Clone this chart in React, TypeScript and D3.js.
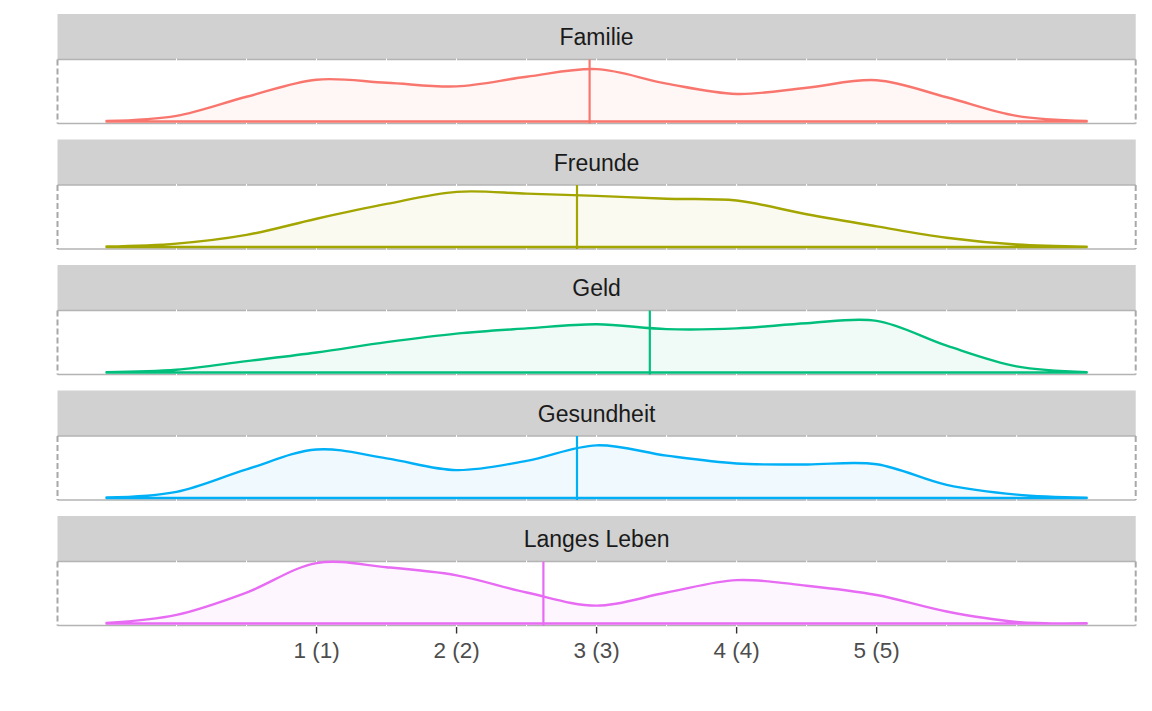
import React, { useEffect, useRef } from 'react';
import * as d3 from 'd3';

// evaluation points of the density curves (scale values)
const gridX = [-0.5, 0, 0.5, 1, 1.5, 2, 2.5, 3, 3.5, 4, 4.5, 5, 5.5, 6, 6.5];

const categories = ['Familie', 'Freunde', 'Geld', 'Gesundheit', 'Langes Leben'];
const colors = ['#F8766D', '#A3A500', '#00BF7D', '#00B0F6', '#E76BF3'];

// estimated kernel density values
const familie = [0.0025, 0.0275, 0.12, 0.2025, 0.1875, 0.17, 0.2165, 0.2535, 0.1835, 0.1335, 0.1635, 0.2, 0.1175, 0.0275, 0.0025];
const freunde = [0.0025, 0.0165, 0.0585, 0.137, 0.2085, 0.267, 0.2585, 0.2475, 0.2335, 0.225, 0.1585, 0.1, 0.045, 0.012, 0.002];
const geld = [0.002, 0.0135, 0.055, 0.097, 0.147, 0.1885, 0.2135, 0.2335, 0.21, 0.2135, 0.2385, 0.25, 0.13, 0.03, 0.002];
const gesundheit = [0.0025, 0.03, 0.1385, 0.235, 0.192, 0.135, 0.18, 0.255, 0.205, 0.167, 0.1625, 0.1635, 0.0635, 0.0165, 0.002];
const langesLeben = [0.0025, 0.042, 0.15, 0.2925, 0.2725, 0.233, 0.15, 0.0865, 0.15, 0.21, 0.183, 0.138, 0.058, 0.008, 0.0015];
const seriesValues = [familie, freunde, geld, gesundheit, langesLeben];

const means = [2.95, 2.86, 3.38, 2.86, 2.62];

const tickValues = [1, 2, 3, 4, 5];
const tickLabels = ['1 (1)', '2 (2)', '3 (3)', '4 (4)', '5 (5)'];
const gridValues = [0, 0.5, 1, 1.5, 2, 2.5, 3, 3.5, 4, 4.5, 5, 5.5, 6];

const App: React.FC = () => {
  const ref = useRef<SVGSVGElement>(null);
  const width = 1152;
  const height = 711;
  const left = 57.5;
  const right = 1135.7;
  const top = 14;
  const stripH = 45.5;
  const panelH = 64;
  const step = 125.5;
  const font = "'Liberation Sans', Arial, Helvetica, sans-serif";

  useEffect(() => {
    if (!ref.current) return;
    const svg = d3.select(ref.current);
    svg.selectAll('*').remove();

    const x = d3.scaleLinear().domain([-0.85, 6.85]).range([left, right]);
    const maxD = d3.max(seriesValues, (s) => d3.max(s)!)!;

    categories.forEach((cat, i) => {
      const sTop = top + i * step;
      const pTop = sTop + stripH;
      const pBot = pTop + panelH;
      const y = d3.scaleLinear().domain([0, maxD]).range([pBot - 2, pTop + 1.6]);
      const g = svg.append('g');

      // strip
      g.append('rect')
        .attr('x', left)
        .attr('y', sTop)
        .attr('width', right - left)
        .attr('height', stripH)
        .attr('fill', '#d1d1d1');
      g.append('text')
        .attr('x', (left + right) / 2)
        .attr('y', sTop + stripH / 2 + 8.5)
        .attr('text-anchor', 'middle')
        .attr('font-family', font)
        .attr('font-size', 23)
        .attr('fill', '#1a1a1a')
        .text(cat);

      // panel frame
      g.append('rect')
        .attr('x', left)
        .attr('y', pTop)
        .attr('width', right - left)
        .attr('height', panelH)
        .attr('fill', 'white');
      [pTop, pBot].forEach((yy) =>
        g.append('line')
          .attr('x1', left)
          .attr('x2', right)
          .attr('y1', yy)
          .attr('y2', yy)
          .attr('stroke', '#b3b3b3')
          .attr('stroke-width', 1.3)
      );
      [left, right].forEach((xx) =>
        g.append('line')
          .attr('x1', xx)
          .attr('x2', xx)
          .attr('y1', pTop)
          .attr('y2', pBot)
          .attr('stroke', '#a8a8a8')
          .attr('stroke-width', 2)
          .attr('stroke-dasharray', '6,3')
      );
      g.selectAll('.grid')
        .data(gridValues)
        .enter()
        .append('line')
        .attr('x1', (d) => x(d))
        .attr('x2', (d) => x(d))
        .attr('y1', pTop - 1)
        .attr('y2', pBot + 1)
        .attr('stroke', 'white')
        .attr('stroke-width', 1);

      // density
      const pts = gridX.map((v, k) => [v, seriesValues[i][k]] as [number, number]);
      const area = d3
        .area<[number, number]>()
        .x((d) => x(d[0]))
        .y0(y(0))
        .y1((d) => y(d[1]))
        .curve(d3.curveCatmullRom.alpha(0.5));
      g.append('path')
        .datum(pts)
        .attr('d', area)
        .attr('fill', colors[i])
        .attr('fill-opacity', 0.06)
        .attr('stroke', colors[i])
        .attr('stroke-width', 2.4)
        .attr('stroke-linejoin', 'round');

      // mean line
      g.append('line')
        .attr('x1', x(means[i]))
        .attr('x2', x(means[i]))
        .attr('y1', pTop)
        .attr('y2', pBot)
        .attr('stroke', colors[i])
        .attr('stroke-width', 2.2);

      if (i === categories.length - 1) {
        const axis = g.append('g');
        axis
          .selectAll('.tick')
          .data(tickValues)
          .enter()
          .append('line')
          .attr('x1', (d) => x(d))
          .attr('x2', (d) => x(d))
          .attr('y1', pBot + 1.5)
          .attr('y2', pBot + 8)
          .attr('stroke', '#333333')
          .attr('stroke-width', 1.4);
        axis
          .selectAll('.lab')
          .data(tickValues)
          .enter()
          .append('text')
          .attr('x', (d) => x(d))
          .attr('y', pBot + 32)
          .attr('text-anchor', 'middle')
          .attr('font-family', font)
          .attr('font-size', 22.5)
          .attr('fill', '#4d4d4d')
          .text((d, k) => tickLabels[k]);
      }
    });
  }, []);

  return (
    <svg
      ref={ref}
      width={width}
      height={height}
      style={{ position: 'absolute', left: 0, top: 0, background: 'white' }}
    />
  );
};

export default App;
